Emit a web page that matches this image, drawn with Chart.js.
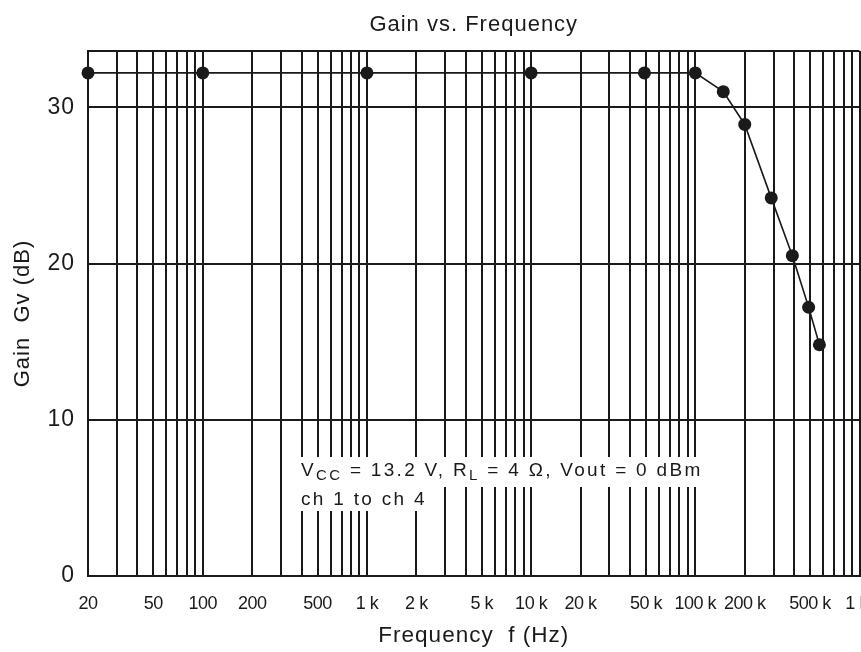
<!DOCTYPE html>
<html><head><meta charset="utf-8">
<script src="https://cdn.jsdelivr.net/npm/chart.js@4"></script>
<style>
html,body{margin:0;padding:0;background:#fff;overflow:hidden;}
#wrap{position:relative;width:866px;height:652px;}
</style></head><body>
<div id="wrap"><canvas id="c"></canvas></div>
<script>
// ---- data ----
const frequencies = [20, 100, 1000, 10000, 49000, 100000, 148000, 200000, 290000, 390000, 490000, 570000];
const gainDb      = [32.2, 32.2, 32.2, 32.2, 32.2, 32.2, 31.0, 28.9, 24.2, 20.5, 17.2, 14.8];
const xGridValues = [20,30,40,50,60,70,80,90,
  100,200,300,400,500,600,700,800,900,
  1000,2000,3000,4000,5000,6000,7000,8000,9000,
  10000,20000,30000,40000,50000,60000,70000,80000,90000,
  100000,200000,300000,400000,500000,600000,700000,800000,900000,1000000];
const xLabelValues = [20,50,100,200,500,1000,2000,5000,10000,20000,50000,100000,200000,500000,1000000];
const xLabelTexts  = ['20','50','100','200','500','1 k','2 k','5 k','10 k','20 k','50 k','100 k','200 k','500 k','1 M'];
const yTickValues = [0,10,20,30];
const yMin = 0, yMax = 33.6;
const xMin = 20, xMax = 1000000;
const annoLine1 = [['V','main'],['CC','sub'],[' = 13.2 V, R','main'],['L','sub'],[' = 4 \u03A9, Vout = 0 dBm','main']];
const annoLine2 = 'ch 1 to ch 4';
const annoFreq = 397, annoGain = 6.4;

const FONT = "'Liberation Sans', Arial, Helvetica, sans-serif";
const INK = '#1a1a1a';

const spacingPlugin = {
  id: 'spacing',
  beforeLayout(chart){ chart.ctx.letterSpacing = '1px'; },
  beforeDraw(chart){ chart.ctx.letterSpacing = '1px'; }
};

const annoPlugin = {
  id: 'anno',
  afterDraw(chart){
    const {ctx, scales:{x, y}} = chart;
    const px = x.getPixelForValue(annoFreq);
    const py = y.getPixelForValue(annoGain);
    const main = '19px ' + FONT, sub = '15px ' + FONT;
    ctx.save();
    ctx.letterSpacing = '2.3px';
    ctx.textBaseline = 'alphabetic';
    ctx.textAlign = 'left';
    let w1 = 0;
    annoLine1.forEach(s => { ctx.font = s[1] === 'main' ? main : sub; w1 += ctx.measureText(s[0]).width; });
    ctx.font = main;
    const w2 = ctx.measureText(annoLine2).width;
    ctx.fillStyle = '#fff';
    ctx.fillRect(px - 3, py - 19, w1 + 6, 30);
    ctx.fillRect(px - 3, py + 11, w2 + 6, 24);
    ctx.fillStyle = INK;
    let cx = px;
    annoLine1.forEach(s => {
      const isMain = s[1] === 'main';
      ctx.font = isMain ? main : sub;
      ctx.fillText(s[0], cx, isMain ? py : py + 4);
      cx += ctx.measureText(s[0]).width;
    });
    ctx.font = main;
    ctx.fillText(annoLine2, px, py + 29);
    ctx.restore();
  }
};

new Chart(document.getElementById('c'), {
  type: 'line',
  data: {
    datasets: [{
      data: frequencies.map((f, i) => ({x: f, y: gainDb[i]})),
      borderColor: INK,
      backgroundColor: INK,
      borderWidth: 1.6,
      pointRadius: 6.5,
      pointHoverRadius: 6.5,
      pointBackgroundColor: INK,
      pointBorderColor: INK,
      pointBorderWidth: 0,
      tension: 0,
      clip: false
    }]
  },
  options: {
    responsive: true,
    maintainAspectRatio: false,
    animation: false,
    events: [],
    layout: {padding: {left: 0, right: 3, top: 0, bottom: 0}},
    plugins: {
      legend: {display: false},
      tooltip: {enabled: false},
      title: {
        display: true,
        text: 'Gain vs. Frequency',
        color: INK,
        fullSize: false,
        font: {family: FONT, size: 22, weight: 'normal'},
        padding: {top: 12, bottom: 12.6}
      }
    },
    scales: {
      x: {
        type: 'logarithmic',
        min: xMin, max: xMax,
        afterBuildTicks(s){ s.ticks = xGridValues.map(v => ({value: v})); },
        afterFit(s){
          s.height = 76; s.paddingLeft = 0; s.paddingRight = 0;
          if (!s.__patched) {
            const orig = s.drawLabels;
            s.drawLabels = function(a){
              const c = this.ctx; const p = c.letterSpacing;
              c.letterSpacing = '-0.5px'; orig.call(this, a); c.letterSpacing = p;
            };
            s.__patched = true;
          }
        },
        ticks: {
          autoSkip: false, maxRotation: 0, minRotation: 0, padding: 17, color: INK,
          font: {family: FONT, size: 18},
          callback(v){ const i = xLabelValues.indexOf(v); return i >= 0 ? xLabelTexts[i] : ''; }
        },
        grid: {color: INK, lineWidth: 2, drawTicks: false},
        border: {color: INK, width: 2},
        title: {display: true, text: 'Frequency  f (Hz)', color: INK,
                font: {family: FONT, size: 22.5}, padding: {top: 0, bottom: 3}}
      },
      y: {
        min: yMin, max: yMax,
        afterBuildTicks(s){ s.ticks = yTickValues.concat([yMax]).map(v => ({value: v})); },
        afterFit(s){ s.width = 88; s.paddingTop = 0; s.paddingBottom = 0; },
        ticks: {
          padding: 13, color: INK, font: {family: FONT, size: 23},
          callback(v){ return yTickValues.includes(v) ? String(v) : ''; }
        },
        grid: {color: INK, lineWidth: 2, drawTicks: false},
        border: {color: INK, width: 2},
        title: {display: true, text: 'Gain  Gv (dB)', color: INK,
                font: {family: FONT, size: 22}, padding: {top: 10, bottom: 0}}
      }
    }
  },
  plugins: [spacingPlugin, annoPlugin]
});
</script>
</body></html>
